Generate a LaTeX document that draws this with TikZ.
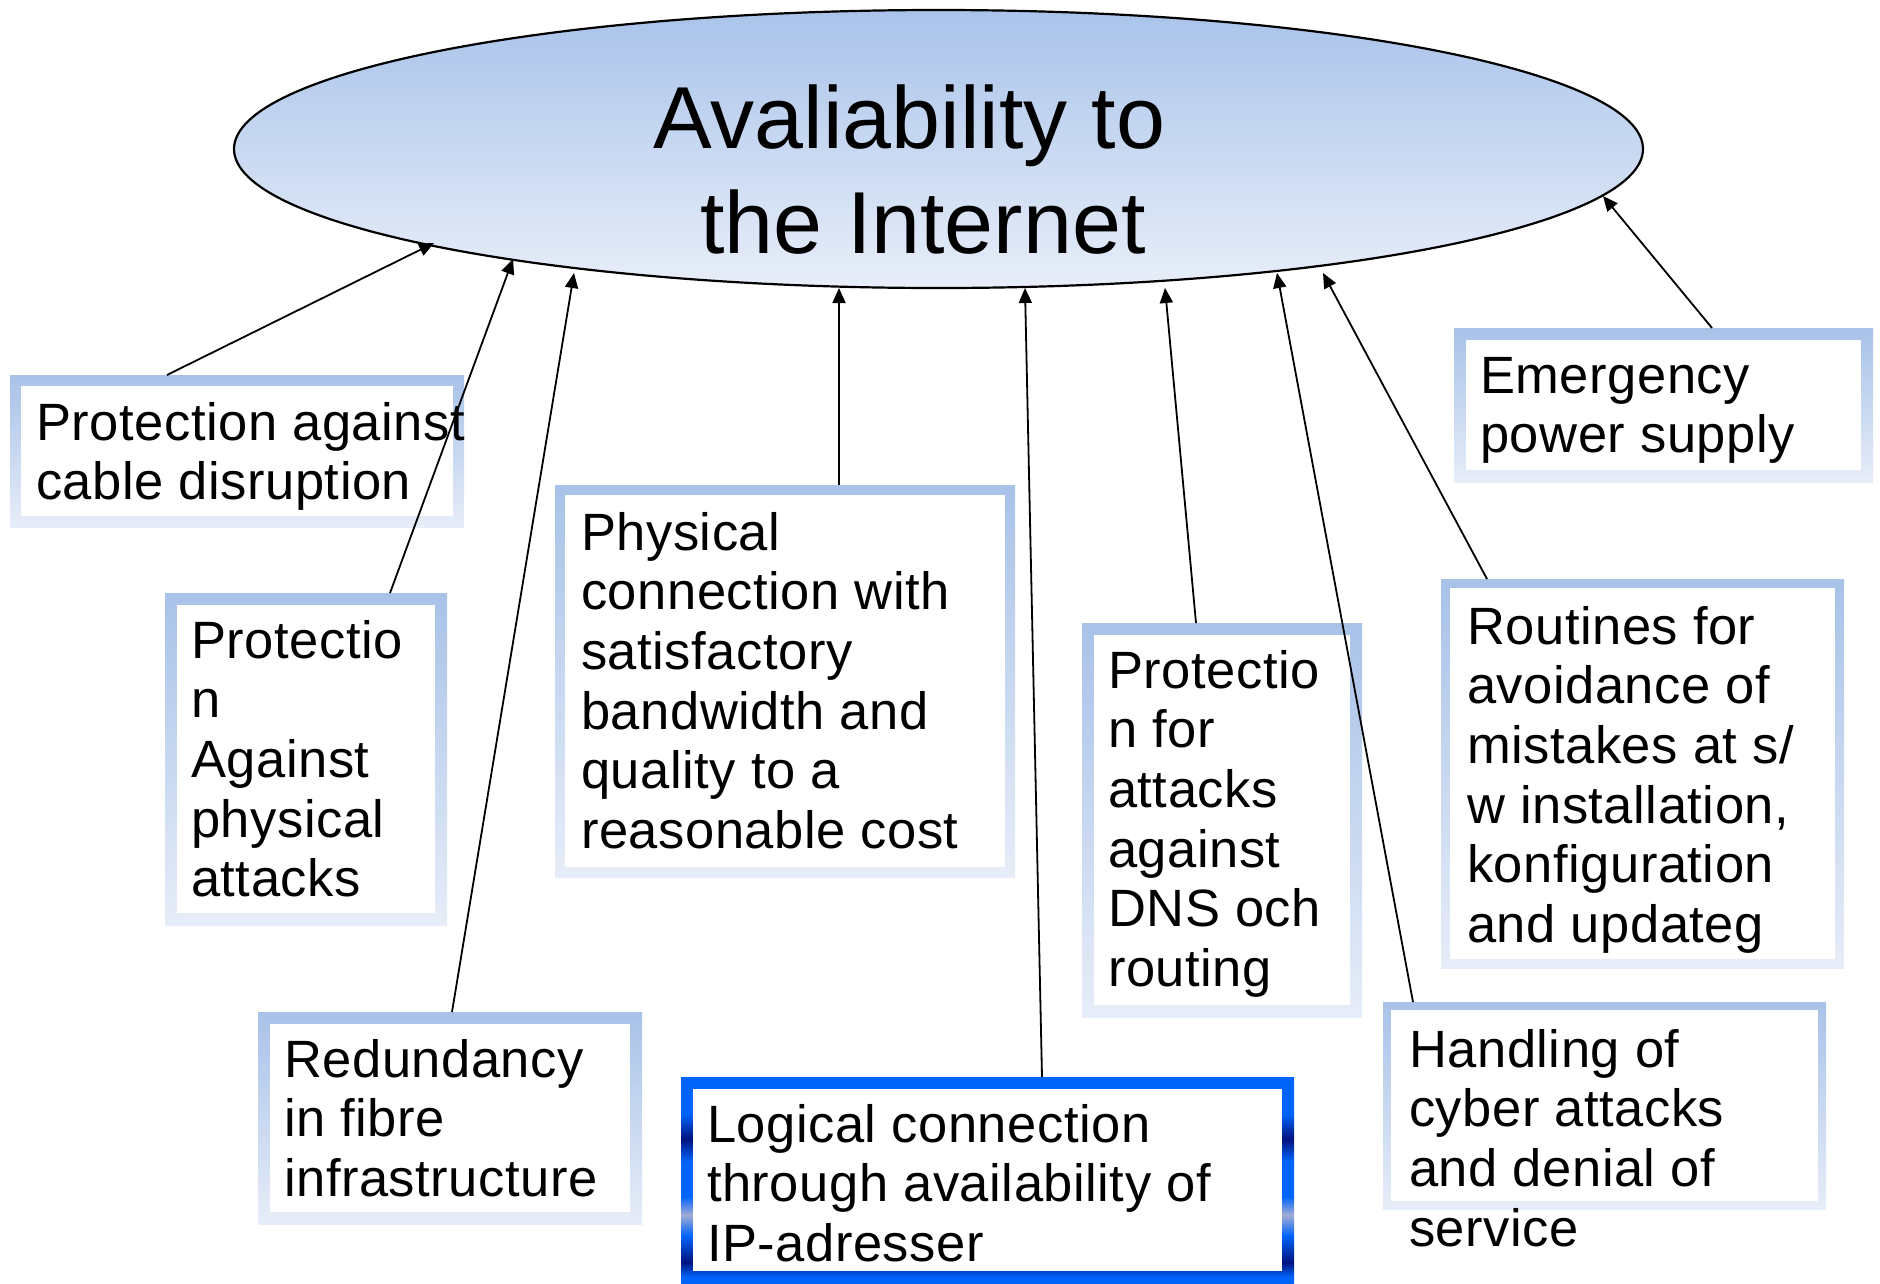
\documentclass[tikz,border=0pt]{standalone}
\usepackage{fontspec}
\setmainfont{Liberation Sans}
\newfontfamily\boxfont[LetterSpace=1.0]{Liberation Sans}
\usetikzlibrary{arrows.meta,fit,shapes.geometric}

\definecolor{frametop}{HTML}{A8C2E8}
\definecolor{framebot}{HTML}{E7EDF8}
\definecolor{ovaltop}{HTML}{A9C3EA}
\definecolor{ovalbot}{HTML}{E8EEF9}
\definecolor{metalblue}{HTML}{0064FA}
\definecolor{metaldark}{HTML}{00137F}
\definecolor{metalgrey}{HTML}{A3ACD6}

% metallic blue frame, stops between 25bp (bottom) and 75bp (top)
\pgfdeclareverticalshading{metalframe}{100bp}{%
  color(0bp)=(metalblue); color(25bp)=(metalblue); color(26.5bp)=(metalblue);
  color(30bp)=(metaldark); color(36.5bp)=(metalblue); color(41.5bp)=(metalgrey);
  color(46bp)=(metalblue); color(54.5bp)=(metalblue); color(60bp)=(metaldark);
  color(66bp)=(metalblue); color(75bp)=(metalblue); color(100bp)=(metalblue)}

\tikzset{
  softframe/.style={top color=frametop, bottom color=framebot},
  blueframe/.style={shading=metalframe},
  boxarea/.style={inner sep=0pt, outer sep=0pt},
  boxtext/.style={anchor=north west, inner sep=0pt, align=left,
    font=\boxfont\fontsize{52.5}{59.6}\selectfont},
  oval/.style={ellipse, draw=black, line width=2.2pt, top color=ovaltop,
    bottom color=ovalbot, inner sep=0pt},
  titletext/.style={anchor=north, inner sep=0pt, align=center,
    font=\fontsize{88}{105}\selectfont},
  link/.style={line width=1.8pt, -{Triangle[length=15pt,width=13pt]}}
}

% \infobox{name}{x1}{y1}{x2}{y2}{frame width}{frame style}{text}
\newcommand\infobox[8]{%
  \shade[#7] (#2,#3) rectangle (#4,#5);
  \fill[white] (#2+#6,#3+#6) rectangle (#4-#6,#5-#6);
  \node[boxarea, fit={(#2,#3) (#4,#5)}] (#1) {};
  \node[boxtext] (#1-text) at (#2+26,#3+23.3) {\strut #8};
}

\begin{document}
\begin{tikzpicture}[x=1pt, y=-1pt]
\useasboundingbox (0,0) rectangle (1880,1283);

% central goal
\node[oval, minimum width=1409pt, minimum height=278pt] (goal) at (938.5,149) {};
\node[titletext] (title) at (923,84.5)
  {Avaliability to\hspace*{27pt}\\ \strut the Internet};

% contributing measures
\infobox{cable}{10}{375}{464}{527}{11}{softframe}
  {Protection against\\cable disruption}
\infobox{physical}{165}{593}{447}{925}{12}{softframe}
  {Protectio\\n\\Against\\physical\\attacks}
\infobox{fibre}{258}{1012}{642}{1224}{12}{softframe}
  {Redundancy\\in fibre\\infrastructure}
\infobox{bandwidth}{555}{485}{1015}{877}{10}{softframe}
  {Physical\\connection with\\satisfactory\\bandwidth and\\quality to a\\reasonable cost}
\infobox{logical}{681}{1077}{1294}{1283}{12}{blueframe}
  {Logical connection\\through availability of\\IP-adresser}
\infobox{dns}{1082}{623}{1362}{1017}{12}{softframe}
  {Protectio\\n for\\attacks\\against\\DNS och\\routing}
\infobox{routines}{1441}{579}{1844}{968}{9}{softframe}
  {Routines for\\avoidance of\\mistakes at s/\\w installation,\\konfiguration\\and updateg}
\infobox{cyber}{1383}{1002}{1826}{1209}{8}{softframe}
  {Handling of\\cyber attacks\\and denial of\\service}
\infobox{power}{1454}{328}{1873}{482}{12}{softframe}
  {Emergency\\power supply}

% arrow tips on the rim of the goal
\coordinate (tipcable)     at (434,243);
\coordinate (tipphysical)  at (513,259);
\coordinate (tipfibre)     at (574,273);
\coordinate (tipbandwidth) at (839,288);
\coordinate (tiplogical)   at (1025,288);
\coordinate (tipdns)       at (1165,288);
\coordinate (tipcyber)     at (1277,273);
\coordinate (tiproutines)  at (1323,273);
\coordinate (tippower)     at (1603,196);

% connectors
\draw[link] ([xshift=157pt]cable.north west)     -- (tipcable);
\draw[link] ([xshift=225pt]physical.north west)  -- (tipphysical);
\draw[link] ([xshift=194pt]fibre.north west)     -- (tipfibre);
\draw[link] ([xshift=284pt]bandwidth.north west) -- (tipbandwidth);
\draw[link] ([xshift=361pt]logical.north west)   -- (tiplogical);
\draw[link] ([xshift=114pt]dns.north west)       -- (tipdns);
\draw[link] ([xshift=30pt]cyber.north west)      -- (tipcyber);
\draw[link] ([xshift=46pt]routines.north west)   -- (tiproutines);
\draw[link] ([xshift=258pt]power.north west)     -- (tippower);
\end{tikzpicture}
\end{document}
